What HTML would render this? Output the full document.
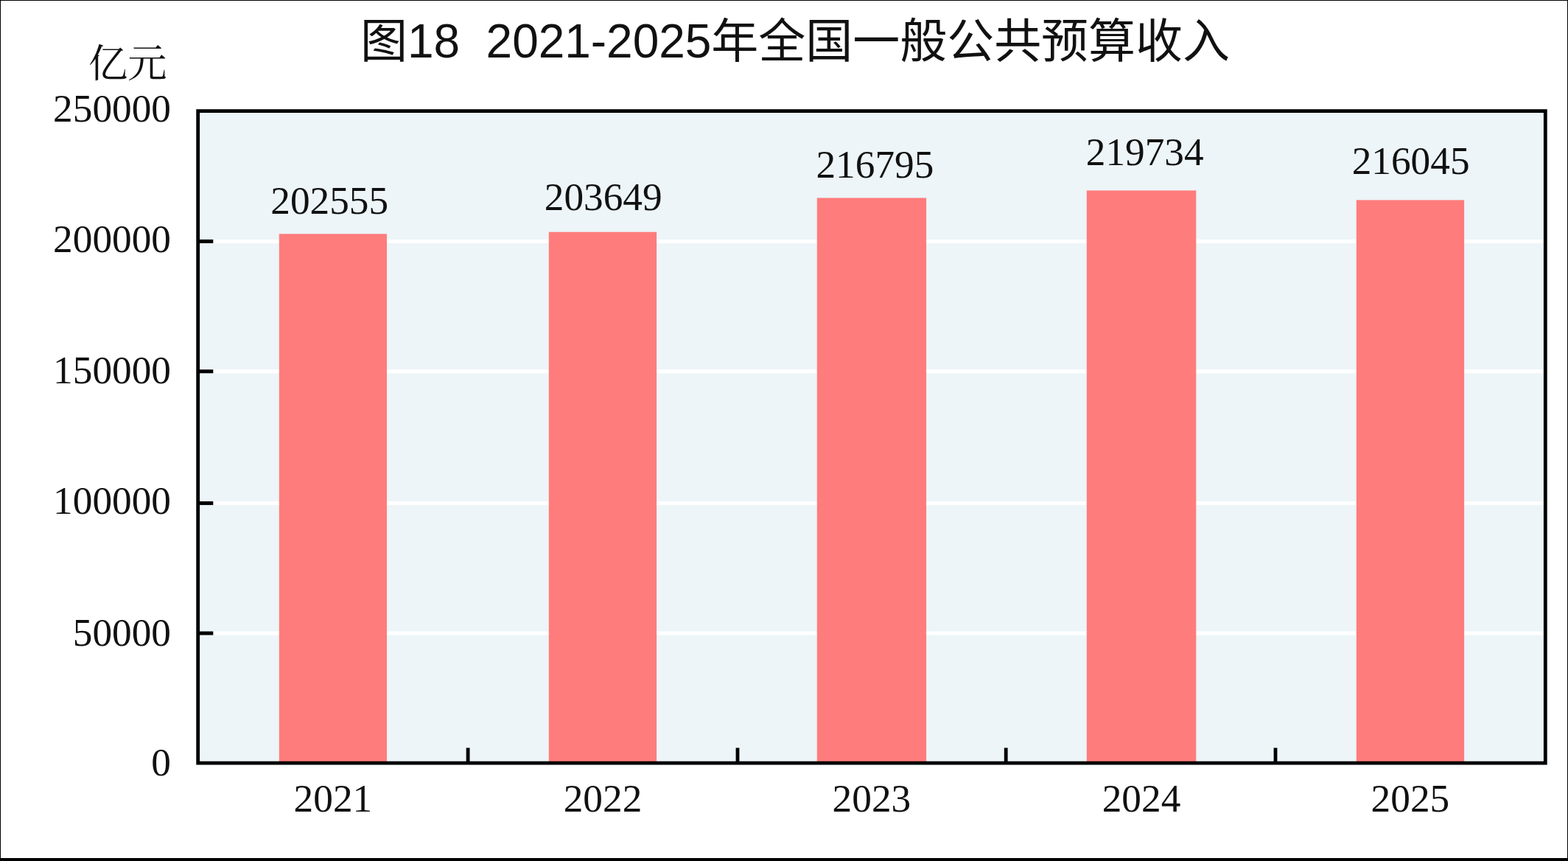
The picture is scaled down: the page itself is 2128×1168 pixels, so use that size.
<!DOCTYPE html>
<html><head><meta charset="utf-8"><title>图18 2021-2025年全国一般公共预算收入</title>
<style>html,body{margin:0;padding:0;background:#fff;font-family:"Liberation Sans",sans-serif}svg{display:block}</style>
</head><body>
<svg width="2128" height="1168" viewBox="0 0 2128 1168" role="img" aria-label="图18 2021-2025年全国一般公共预算收入">
<title>图18 2021-2025年全国一般公共预算收入</title>
<rect width="2128" height="1168" fill="#fff"/>
<rect x="266.30" y="148.20" width="1833.40" height="889.30" fill="#EDF5F8"/>
<rect x="266.30" y="324.90" width="1833.40" height="5" fill="#fff"/>
<rect x="266.30" y="501.30" width="1833.40" height="5" fill="#fff"/>
<rect x="266.30" y="680.10" width="1833.40" height="5" fill="#fff"/>
<rect x="266.30" y="856.50" width="1833.40" height="5" fill="#fff"/>
<rect x="378.80" y="317.30" width="146.20" height="717.80" fill="#FF7C7C"/>
<rect x="744.80" y="314.70" width="146.30" height="720.40" fill="#FF7C7C"/>
<rect x="1108.80" y="268.50" width="148.30" height="766.60" fill="#FF7C7C"/>
<rect x="1474.80" y="258.40" width="148.50" height="776.70" fill="#FF7C7C"/>
<rect x="1840.80" y="271.40" width="146.30" height="763.70" fill="#FF7C7C"/>
<rect x="267.30" y="324.90" width="22.00" height="5"/>
<rect x="267.30" y="501.30" width="22.00" height="5"/>
<rect x="267.30" y="680.10" width="22.00" height="5"/>
<rect x="267.30" y="856.50" width="22.00" height="5"/>
<rect x="632.70" y="1014.5" width="4.8" height="22.00"/>
<rect x="998.60" y="1014.5" width="4.8" height="22.00"/>
<rect x="1362.80" y="1014.5" width="4.8" height="22.00"/>
<rect x="1728.60" y="1014.5" width="4.8" height="22.00"/>
<rect x="268.70" y="150.60" width="1828.60" height="884.50" fill="none" stroke="#000" stroke-width="4.80"/>
<rect x="0" y="0" width="2128" height="1"/><rect x="0" y="0" width="1" height="1168"/><rect x="2127" y="0" width="1" height="1168"/><rect x="0" y="1164" width="2128" height="4"/>
<g fill="#111" stroke="none" font-family="'Liberation Serif', 'Noto Serif CJK SC', serif" font-size="53.3"><text x="489" y="78" font-family="'Liberation Sans', 'Noto Sans CJK SC', sans-serif" font-size="64" textLength="1180" lengthAdjust="spacing" xml:space="preserve">图18  2021-2025年全国一般公共预算收入</text><text x="120" y="105">亿元</text><text x="232" y="164.9" text-anchor="end">250000</text><text x="232" y="342.3" text-anchor="end">200000</text><text x="232" y="519.7" text-anchor="end">150000</text><text x="232" y="697.1" text-anchor="end">100000</text><text x="232" y="875.5" text-anchor="end">50000</text><text x="232" y="1051.9" text-anchor="end">0</text><text x="451.9" y="1100.5" text-anchor="middle">2021</text><text x="818.0" y="1100.5" text-anchor="middle">2022</text><text x="1182.9" y="1100.5" text-anchor="middle">2023</text><text x="1549.0" y="1100.5" text-anchor="middle">2024</text><text x="1913.9" y="1100.5" text-anchor="middle">2025</text><text x="447.2" y="290.2" text-anchor="middle">202555</text><text x="818.7" y="285.0" text-anchor="middle">203649</text><text x="1187.4" y="241.1" text-anchor="middle">216795</text><text x="1553.7" y="223.7" text-anchor="middle">219734</text><text x="1914.6" y="236.1" text-anchor="middle">216045</text></g>
</svg>
</body></html>
